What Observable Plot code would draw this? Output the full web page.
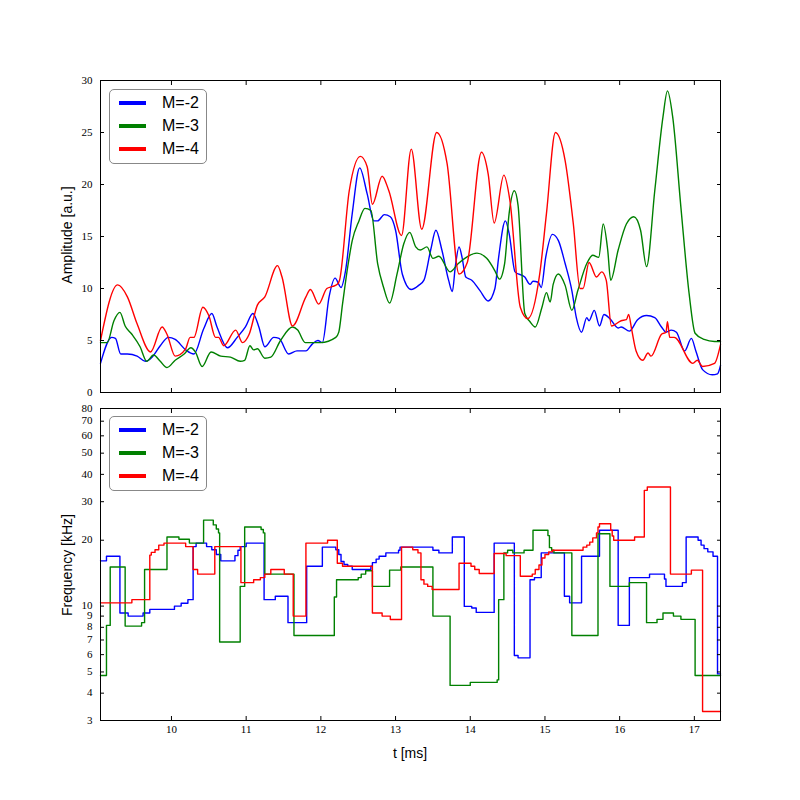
<!DOCTYPE html>
<html>
<head>
<meta charset="utf-8">
<script src="https://cdn.jsdelivr.net/npm/d3@7"></script>
<script src="https://cdn.jsdelivr.net/npm/@observablehq/plot@0.6"></script>
<style>
  body { margin: 0; background: #fff; }
  #fig { position: relative; width: 800px; height: 800px; background: #fff; overflow: hidden; }
  .pane { position: absolute; left: 0; }
  .lab { position: absolute; font-family: "Liberation Sans", Arial, sans-serif; font-size: 14px; color: #000; white-space: nowrap; }
  .rot { transform: translate(-50%, -50%) rotate(-90deg); }
  .legend { position: absolute; left: 109px; width: 98px; height: 75px; border: 1px solid #888; border-radius: 5px; background: #fff; box-sizing: border-box; }
  .sw { position: absolute; left: 9px; width: 27px; height: 4px; }
  .lt { position: absolute; left: 52px; height: 18px; line-height: 18px; font-family: "Liberation Sans", Arial, sans-serif; font-size: 16px; color: #000; }
</style>
</head>
<body>
<div id="fig"></div>
<script>
// ---------- data ----------
const seriesNames = ["M=-2", "M=-3", "M=-4"];
const seriesColors = ["#0000ff", "#008000", "#ff0000"];
const xTicks = [10, 11, 12, 13, 14, 15, 16, 17];
const ampTicks = [0, 5, 10, 15, 20, 25, 30];
const freqTicks = [3, 4, 5, 6, 7, 8, 9, 10, 20, 30, 40, 50, 60, 70, 80];

// Amplitude, M=-2
const ampT2 = [9.05,9.2,9.25,9.32,9.41,9.54,9.65,9.74,9.85,9.96,10.05,10.19,10.3,10.43,10.54,10.61,10.75,10.88,10.99,11.09,11.17,11.25,11.37,11.44,11.57,11.68,11.8,11.89,11.96,12.02,12.11,12.19,12.27,12.33,12.42,12.52,12.62,12.71,12.76,12.85,12.93,13.0,13.09,13.21,13.31,13.38,13.47,13.54,13.62,13.71,13.76,13.8,13.85,13.89,13.94,14.02,14.13,14.24,14.33,14.38,14.47,14.52,14.6,14.73,14.8,14.84,14.91,14.95,15.01,15.1,15.18,15.27,15.36,15.42,15.49,15.56,15.59,15.66,15.73,15.79,15.87,15.98,16.02,16.13,16.24,16.36,16.47,16.56,16.62,16.69,16.76,16.87,16.96,17.02,17.11,17.24,17.31,17.35];
const amp2 = [2.8,5.3,5.2,3.7,3.7,3.5,3.0,3.4,4.5,5.3,5.1,4.1,3.7,6.1,7.6,6.3,4.3,5.3,6.3,7.6,6.3,4.4,5.3,5.2,3.7,4.0,4.0,4.7,5.0,4.8,9.2,11.0,10.1,11.7,17.2,21.6,19.1,16.5,16.5,17.1,16.9,15.6,11.4,9.9,10.3,10.8,13.7,15.6,13.7,10.8,9.7,12.1,14.0,13.0,11.1,10.8,9.8,8.8,10.0,13.0,16.5,15.3,11.6,11.1,10.4,10.7,10.6,10.1,13.0,15.2,14.6,12.4,9.8,7.2,5.8,7.2,6.9,7.9,6.4,7.5,7.1,6.2,6.3,5.9,7.0,7.4,7.2,6.3,5.8,6.0,5.8,4.0,5.2,4.0,2.2,1.7,1.8,2.6];

// Amplitude, M=-3
const ampT3 = [9.05,9.14,9.23,9.31,9.38,9.47,9.58,9.67,9.76,9.85,9.94,10.05,10.17,10.26,10.32,10.41,10.53,10.66,10.79,10.92,10.98,11.05,11.1,11.15,11.25,11.33,11.46,11.62,11.69,11.79,12.0,12.2,12.24,12.29,12.36,12.42,12.51,12.59,12.67,12.76,12.84,12.92,13.02,13.11,13.19,13.27,13.33,13.42,13.5,13.58,13.73,13.84,14.09,14.22,14.33,14.39,14.46,14.52,14.59,14.64,14.73,14.8,14.87,14.96,15.02,15.07,15.11,15.18,15.27,15.36,15.44,15.56,15.64,15.72,15.78,15.84,15.88,15.98,16.09,16.19,16.28,16.36,16.47,16.58,16.64,16.71,16.82,16.93,17.01,17.13,17.27,17.35];
const amp3 = [4.8,4.8,6.9,7.7,6.4,5.6,4.4,3.0,3.6,3.0,2.4,3.1,3.7,4.3,3.9,2.5,3.9,3.5,3.4,3.0,3.1,4.5,4.1,4.2,3.3,3.4,5.0,6.3,6.0,4.8,4.8,5.3,5.8,8.5,12.1,14.6,16.5,17.7,17.5,12.4,10.1,8.6,11.4,14.3,15.4,14.0,13.7,14.0,12.9,13.1,11.6,12.4,13.4,12.9,11.7,10.9,12.4,17.2,19.4,18.0,7.6,6.8,6.3,8.2,9.6,8.7,10.4,11.4,10.3,7.9,9.8,12.4,13.2,13.0,16.2,13.7,10.8,13.7,16.2,16.9,15.6,12.1,19.4,26.5,29.0,26.5,17.8,9.5,5.7,5.1,4.9,4.9];

// Amplitude, M=-4
const ampT4 = [9.05,9.28,9.41,9.54,9.72,9.875,9.94,10.05,10.19,10.25,10.3,10.42,10.5,10.59,10.63,10.7,10.86,10.95,11.04,11.15,11.25,11.42,11.48,11.62,11.8,11.86,11.97,12.08,12.16,12.22,12.25,12.38,12.53,12.62,12.69,12.82,12.91,13.08,13.21,13.35,13.55,13.69,13.85,13.96,14.15,14.24,14.32,14.45,14.53,14.67,14.77,14.93,15.02,15.14,15.27,15.38,15.47,15.51,15.59,15.69,15.76,15.82,15.89,16.02,16.09,16.12,16.16,16.22,16.31,16.38,16.42,16.56,16.62,16.64,16.67,16.73,16.98,17.04,17.11,17.27,17.35];
const amp4 = [5.0,10.35,9.2,6.6,3.9,6.3,5.6,3.5,4.2,5.3,5.3,8.2,7.4,5.3,5.3,4.5,6.0,4.8,5.6,8.4,9.2,12.2,11.1,6.4,9.2,9.9,8.5,10.0,10.2,10.4,10.8,19.4,22.7,21.7,18.1,20.8,19.4,15.1,23.4,15.7,25.0,22.0,11.4,12.5,23.1,21.0,16.3,20.9,18.5,8.2,7.1,11.4,17.2,25.0,22.3,16.2,10.0,10.0,12.5,11.1,11.6,10.8,6.4,6.9,7.0,7.5,6.1,4.0,3.1,3.8,3.5,5.6,5.8,6.8,5.3,5.3,2.8,3.1,2.5,2.8,4.6];

// Frequency (step start times and levels), M=-2
const frqT2 = [9.05,9.13,9.31,9.42,9.62,9.71,10.04,10.13,10.22,10.29,10.33,10.47,10.54,10.6,10.66,10.85,10.89,10.92,11.0,11.24,11.39,11.56,11.81,12.02,12.2,12.24,12.27,12.31,12.36,12.42,12.67,12.69,12.74,12.78,12.87,13.04,13.06,13.5,13.58,13.76,13.92,14.02,14.08,14.32,14.59,14.64,14.8,14.86,14.95,15.26,15.33,15.49,15.73,15.98,16.13,16.4,16.6,16.62,16.84,16.89,17.05,17.09,17.13,17.18,17.25,17.31,17.35];
const frq2 = [16.1,16.9,9.3,9.0,9.3,9.66,10.0,10.3,10.7,18.7,19.4,18.7,18.1,17.2,16.1,17.0,18.0,18.7,19.4,10.7,11.1,8.4,15.2,18.6,18.1,17.2,16.0,15.5,15.2,14.7,15.2,15.8,16.4,16.9,17.5,18.0,18.6,18.0,17.5,20.7,9.97,9.8,9.36,19.4,5.95,5.8,13.2,13.5,17.5,11.1,10.35,16.9,22.2,8.16,13.5,14.0,13.3,12.3,12.8,20.7,20.0,19.0,18.3,17.7,16.9,4.9,4.9];

// Frequency, M=-3
const frqT3 = [9.05,9.13,9.18,9.38,9.6,9.64,9.94,10.1,10.24,10.43,10.56,10.6,10.63,10.645,10.92,10.98,11.2,11.23,11.25,11.64,12.18,12.21,12.5,12.54,12.6,12.69,12.92,13.07,13.5,13.73,14.0,14.36,14.38,14.45,14.5,14.57,14.72,14.84,15.04,15.06,15.09,15.12,15.36,15.71,15.87,16.13,16.36,16.5,16.58,16.72,16.82,17.01,17.35];
const frq3 = [4.82,8.16,15.1,8.1,8.4,14.7,20.7,20.2,19.4,24.7,23.5,22.5,21.6,6.85,12.3,23.0,22.4,21.6,14.0,7.34,11.0,13.2,13.5,14.0,14.5,12.3,14.6,15.1,9.0,4.34,4.48,4.6,10.7,17.5,18.0,17.5,18.0,22.2,21.0,18.5,18.0,17.5,7.34,21.4,12.3,12.8,8.4,8.7,9.3,9.0,8.7,4.82,4.82];

// Frequency, M=-4
const frqT4 = [9.05,9.47,9.71,9.73,9.78,9.83,9.9,10.19,10.29,10.35,10.58,10.93,11.1,11.19,11.25,11.33,11.51,11.63,11.8,12.09,12.22,12.29,12.69,12.82,12.93,13.08,13.23,13.3,13.34,13.38,13.43,13.49,13.85,14.01,14.06,14.12,14.32,14.48,14.67,14.83,14.87,14.92,14.96,15.0,15.05,15.1,15.51,15.56,15.6,15.64,15.69,15.71,15.73,15.88,15.9,15.92,16.2,16.33,16.37,16.68,16.96,17.11,17.35];
const frq4 = [10.35,10.7,17.1,17.6,18.1,19.0,19.4,18.7,14.7,14.0,18.7,12.8,13.2,13.5,14.0,14.7,14.0,9.0,19.4,20.0,15.7,15.2,9.3,9.0,8.68,18.6,18.1,17.5,13.2,12.6,12.3,11.9,15.7,15.2,14.7,14.1,17.4,17.0,13.7,14.0,14.7,15.4,16.6,17.2,17.7,18.0,18.6,19.0,19.6,20.5,21.6,23.0,23.8,22.2,20.9,20.0,20.7,33.8,35.0,14.0,14.6,3.3,3.3];

// ---------- build ----------
const xDomain = [9.05, 17.35];
const ampSeries = [[ampT2, amp2], [ampT3, amp3], [ampT4, amp4]];
const frqSeries = [[frqT2, frq2], [frqT3, frq3], [frqT4, frq4]];
const toRows = ([ts, vs]) => ts.map((t, i) => ({t, v: vs[i]}));

const fig = document.getElementById("fig");
const baseStyle = {fontFamily: "'Liberation Serif', 'Times New Roman', serif", fontSize: "11px", background: "transparent", color: "#000"};
const noText = () => "";

function frameMarks(yTicks, xLabels) {
  return [
    Plot.frame({stroke: "#000", strokeWidth: 1}),
    Plot.axisY({ticks: yTicks, anchor: "left", tickSize: -4, tickFormat: noText, label: null}),
    Plot.axisY({ticks: yTicks, anchor: "right", tickSize: -4, tickFormat: noText, label: null}),
    // y tick labels as a text mark (all labels, also on the log axis)
    Plot.text(yTicks, {y: d => d, text: d => String(d), frameAnchor: "left", textAnchor: "end", dx: -8, fill: "#000", lineHeight: 0.9}),
    Plot.axisX({ticks: xTicks, anchor: "top", tickSize: -4, tickFormat: noText, label: null}),
    Plot.axisX({ticks: xTicks, anchor: "bottom", tickSize: -4, tickFormat: noText, label: null}),
    ...(xLabels ? [Plot.axisX({ticks: xTicks, anchor: "bottom", tickSize: 0, tickPadding: 5, tickFormat: d => String(d), label: null})] : [])
  ];
}

const ampChart = Plot.plot({
  width: 800, height: 400,
  marginLeft: 100, marginRight: 80, marginTop: 80, marginBottom: 8,
  x: {domain: xDomain, label: null},
  y: {domain: [0, 30], label: null},
  style: baseStyle,
  marks: [
    ...ampSeries.map((s, i) => Plot.line(toRows(s), {x: "t", y: "v", stroke: seriesColors[i], strokeWidth: 1.4, curve: "monotone-x"})),
    ...frameMarks(ampTicks, false)
  ]
});
ampChart.classList.add("pane");
ampChart.style.top = "0px";
fig.appendChild(ampChart);

const frqChart = Plot.plot({
  width: 800, height: 400,
  marginLeft: 100, marginRight: 80, marginTop: 8, marginBottom: 80,
  x: {domain: xDomain, label: null},
  y: {type: "log", domain: [3, 80], label: null},
  style: baseStyle,
  marks: [
    ...frqSeries.map((s, i) => Plot.line(toRows(s), {x: "t", y: "v", stroke: seriesColors[i], strokeWidth: 1.4, curve: "step-after"})),
    ...frameMarks(freqTicks, true)
  ]
});
frqChart.classList.add("pane");
frqChart.style.top = "400px";
fig.appendChild(frqChart);

// axis labels
function addLabel(text, x, y, rotate) {
  const d = document.createElement("div");
  d.className = "lab" + (rotate ? " rot" : "");
  d.textContent = text;
  d.style.left = x + "px";
  d.style.top = y + "px";
  if (!rotate) d.style.transform = "translate(-50%, -50%)";
  fig.appendChild(d);
}
addLabel("Amplitude [a.u.]", 67, 235, true);
addLabel("Frequency [kHz]", 67, 565, true);
addLabel("t [ms]", 410, 753, false);

// legends
function addLegend(topPx) {
  const box = document.createElement("div");
  box.className = "legend";
  box.style.top = topPx + "px";
  const rows = [12.5, 35.5, 58.5];
  seriesNames.forEach((name, i) => {
    const sw = document.createElement("div");
    sw.className = "sw";
    sw.style.top = (rows[i] - 2) + "px";
    sw.style.background = seriesColors[i];
    box.appendChild(sw);
    const t = document.createElement("div");
    t.className = "lt";
    t.style.top = (rows[i] - 9) + "px";
    t.textContent = name;
    box.appendChild(t);
  });
  fig.appendChild(box);
}
addLegend(89);
addLegend(416);
</script>
</body>
</html>
